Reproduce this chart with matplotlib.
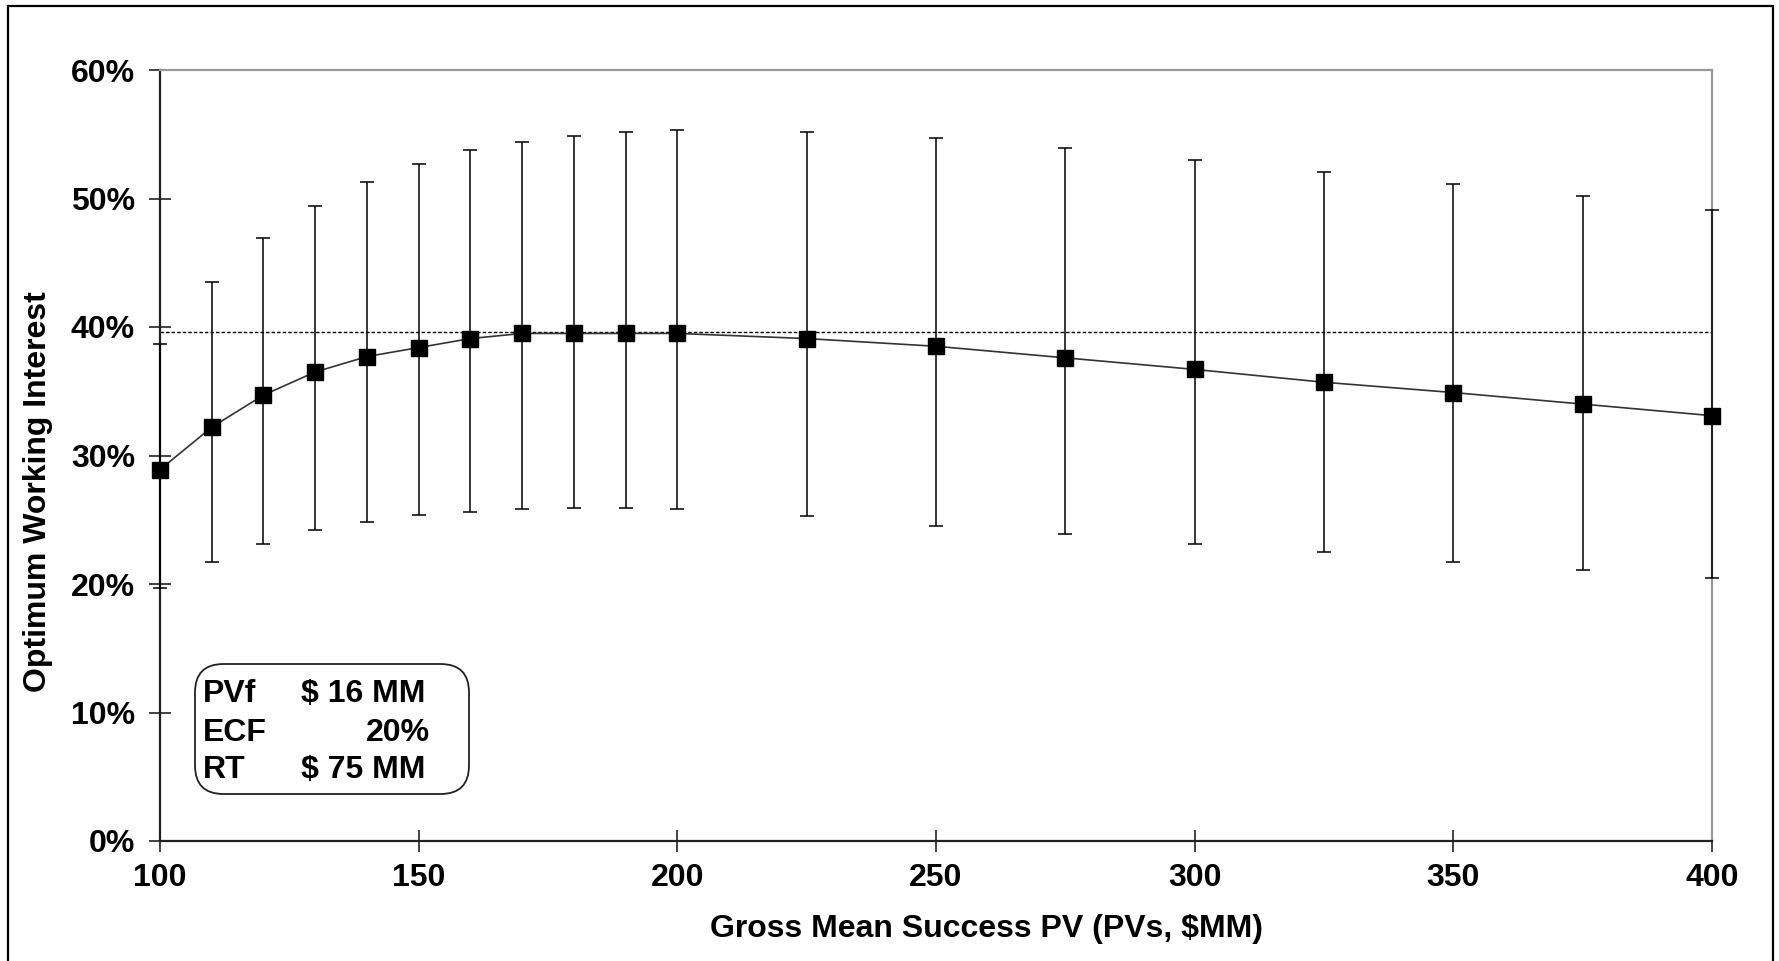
import matplotlib.pyplot as plt
from matplotlib.patches import FancyBboxPatch, Rectangle
from matplotlib.ticker import FuncFormatter

plt.rcParams['font.family'] = ['Liberation Sans', 'DejaVu Sans']
plt.rcParams['font.weight'] = 'bold'

# gross mean success PV ($MM) and optimum working interest (%)
pv = [100, 110, 120, 130, 140, 150, 160, 170, 180, 190, 200,
      225, 250, 275, 300, 325, 350, 375, 400]
wi = [28.9, 32.2, 34.7, 36.5, 37.7, 38.4, 39.1, 39.5, 39.5, 39.5, 39.5,
      39.1, 38.5, 37.6, 36.7, 35.7, 34.9, 34.0, 33.1]
wi_hi = [38.7, 43.5, 46.9, 49.4, 51.3, 52.7, 53.8, 54.4, 54.9, 55.2, 55.3,
         55.2, 54.7, 53.9, 53.0, 52.1, 51.1, 50.2, 49.1]
wi_lo = [19.7, 21.7, 23.1, 24.2, 24.8, 25.4, 25.6, 25.8, 25.9, 25.9, 25.8,
         25.3, 24.5, 23.9, 23.1, 22.5, 21.7, 21.1, 20.5]
wi_max = 39.6

x_ticks = [100, 150, 200, 250, 300, 350, 400]
y_ticks = [0, 10, 20, 30, 40, 50, 60]

box_labels = ['PVf', 'ECF', 'RT']
box_values = ['$ 16 MM', '20%', '$ 75 MM']

W, H = 1779, 961
fig = plt.figure(figsize=(W / 100, H / 100), dpi=100)
ax = fig.add_axes([160 / W, 1 - 841 / H, (1712 - 160) / W, (841 - 70) / H])

# outer chart frame (bottom edge runs past the image)
fig.patches.append(Rectangle((8 / W, -0.05), (1773 - 8) / W, 1.05 - 6 / H,
                             transform=fig.transFigure, fill=False,
                             edgecolor='black', lw=1.6))

err = [[m - l for m, l in zip(wi, wi_lo)], [h - m for m, h in zip(wi, wi_hi)]]
ax.errorbar(pv, wi, yerr=err, fmt='none', ecolor='black', elinewidth=1.1,
            capsize=5, capthick=1.1, zorder=3, clip_on=False)
ax.plot(pv, wi, color='#333333', lw=1.2, zorder=4, clip_on=False)
ax.plot(pv, wi, 's', color='black', ms=12, zorder=5, clip_on=False)
ax.plot([pv[0], pv[-1]], [wi_max, wi_max], color='black', lw=1.0,
        ls=(0, (2.5, 1.5)), zorder=2)

ax.set_xlim(100, 400)
ax.set_ylim(0, 60)
ax.set_xticks(x_ticks)
ax.set_yticks(y_ticks)
ax.yaxis.set_major_formatter(FuncFormatter(lambda v, p: f'{v:.0f}%'))
ax.tick_params(direction='inout', length=16, width=1.2, labelsize=23,
               color='#222222')
ax.tick_params(axis='y', pad=10)
ax.tick_params(axis='x', pad=8)
for lab in ax.get_xticklabels() + ax.get_yticklabels():
    lab.set_fontweight('bold')

for side in ['left', 'bottom']:
    ax.spines[side].set_color('#222222')
    ax.spines[side].set_linewidth(1.6)
for side in ['top', 'right']:
    ax.spines[side].set_color('#999999')
    ax.spines[side].set_linewidth(1.6)

ax.set_xlabel('Gross Mean Success PV (PVs, $MM)', fontsize=23,
              fontweight='bold')
ax.xaxis.set_label_coords((987 - 160) / (1712 - 160), -(914 - 841) / (841 - 70))
ax.set_ylabel('Optimum Working Interest', fontsize=23, fontweight='bold')
ax.yaxis.set_label_coords(-(160 - 53) / (1712 - 160), (841 - 492) / (841 - 70))

# parameter box
fig.patches.append(FancyBboxPatch((195 / W, 1 - 794 / H), (469 - 195) / W,
                                  (794 - 664) / H,
                                  boxstyle='round,pad=0,rounding_size=0.016',
                                  transform=fig.transFigure, facecolor='white',
                                  edgecolor='#222222', lw=1.3, zorder=6,
                                  mutation_aspect=W / H))
line_y = [694, 733, 770]
for lab, val, yy in zip(box_labels, box_values, line_y):
    fig.text(203 / W, 1 - yy / H, lab, fontsize=23, fontweight='bold',
             va='center', ha='left', zorder=7)
    if val.endswith('%'):
        fig.text(430 / W, 1 - yy / H, val, fontsize=23, fontweight='bold',
                 va='center', ha='right', zorder=7)
    else:
        fig.text(301 / W, 1 - yy / H, val, fontsize=23, fontweight='bold',
                 va='center', ha='left', zorder=7)

fig.savefig('out.png', dpi=100)
